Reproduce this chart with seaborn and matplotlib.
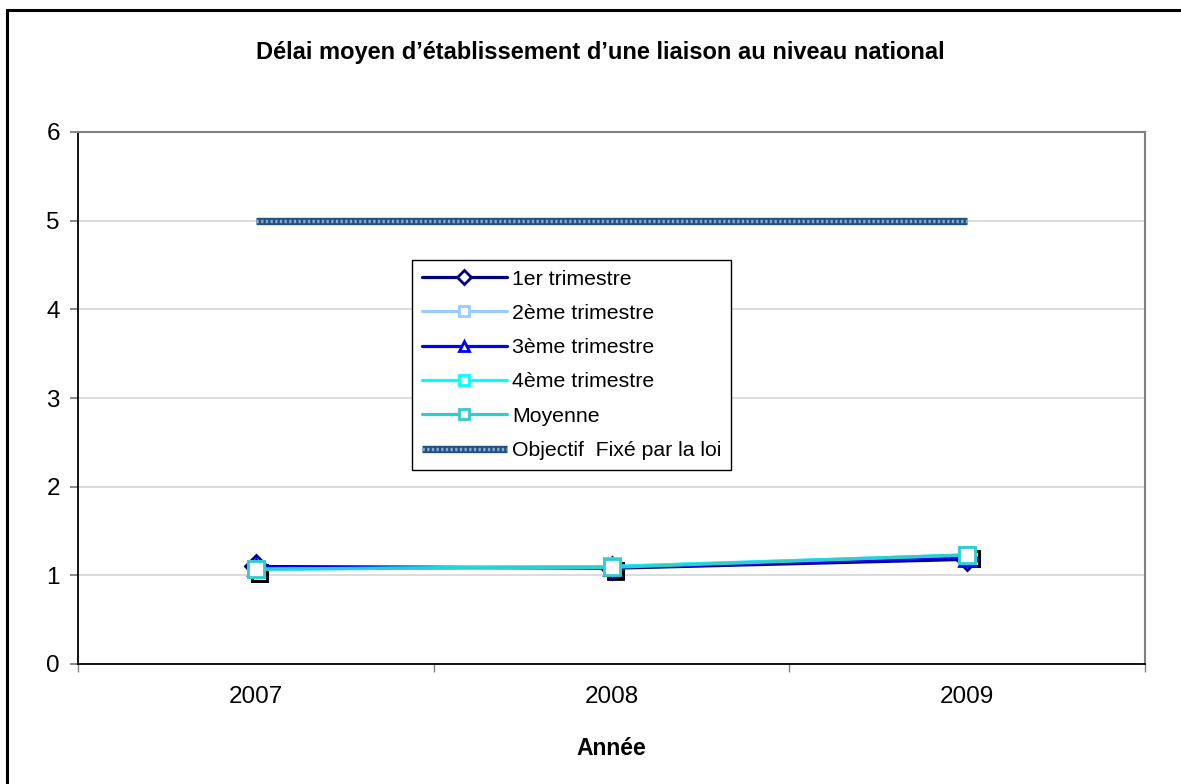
import matplotlib
matplotlib.use("Agg")
import matplotlib.pyplot as plt
import matplotlib.patheffects as pe
from matplotlib.patches import Rectangle
from matplotlib.ticker import FixedLocator, NullFormatter
from matplotlib.legend_handler import HandlerTuple
import seaborn as sns
import pandas as pd

# ---- data ----
years = ["2007", "2008", "2009"]
t1 = [1.10, 1.08, 1.18]
t2 = [1.07, 1.10, 1.23]
t3 = [1.09, 1.09, 1.20]
t4 = [1.07, 1.10, 1.23]
moyenne = [1.07, 1.09, 1.23]
objectif = [5, 5, 5]
series_names = ["1er trimestre", "2ème trimestre", "3ème trimestre",
                "4ème trimestre", "Moyenne"]
series_values = [t1, t2, t3, t4, moyenne]
title = "Délai moyen d’établissement d’une liaison au niveau national"
xlabel = "Année"
obj_label = "Objectif  Fixé par la loi"
yticks = [0, 1, 2, 3, 4, 5, 6]

colors = ["#000080", "#99CCFF", "#0000FF", "#00FFFF", "#33CCCC"]
markers = ["D", "s", "^", "s", "s"]

sns.set_theme(style="white")
plt.rcParams["font.family"] = ["Liberation Sans", "DejaVu Sans"]

W, H = 1181, 784
fig = plt.figure(figsize=(W / 100, H / 100), dpi=100)
L, R, T, B = 78, 1145, 132, 664
ax = fig.add_axes([L / W, 1 - B / H, (R - L) / W, (B - T) / H])

# objective line (textured: dark base + light dotted overlay)
df_obj = pd.DataFrame({"year": years, "val": objectif})
sns.lineplot(data=df_obj, x="year", y="val", ax=ax, color="#24507f",
             linewidth=5.3, zorder=2, sort=False, solid_capstyle="butt")
obj_base = ax.lines[-1]
sns.lineplot(data=df_obj, x="year", y="val", ax=ax, color="#86a8cc",
             linewidth=2.4, zorder=2.1, sort=False, linestyle=(0, (0.7, 0.7)),
             dash_capstyle="butt")
obj_dots = ax.lines[-1]

handles = {}
for name, vals, c, m in zip(series_names, series_values, colors, markers):
    d = pd.DataFrame({"year": years, "val": vals})
    if m == "s":
        # shadow of square markers
        sns.lineplot(data=d, x="year", y="val", ax=ax, color=c, linestyle="",
                     marker=m, markersize=11, markerfacecolor="white",
                     markeredgecolor=c, markeredgewidth=2, sort=False,
                     path_effects=[pe.SimpleLineShadow(offset=(2.8, -2.8),
                                                       shadow_color="black", alpha=1.0)],
                     zorder=3, alpha=0)
    sns.lineplot(data=d, x="year", y="val", ax=ax, color=c, linewidth=2.3,
                 marker=m, markersize=11, markerfacecolor="white",
                 markeredgecolor=c, markeredgewidth=2, sort=False,
                 zorder=4)
    handles[name] = ax.lines[-1]

ax.set_xlim(-0.5, 2.5)
ax.set_ylim(0, 6)
ax.set_yticks(yticks)
ax.set_yticklabels([str(v) for v in yticks])
ax.yaxis.grid(True, color="#D9D9D9", linewidth=1.3)
ax.xaxis.grid(False)
ax.set_axisbelow(True)

ax.xaxis.set_minor_locator(FixedLocator([-0.5, 0.5, 1.5, 2.5]))
ax.xaxis.set_minor_formatter(NullFormatter())
ax.tick_params(axis="x", which="major", length=0, pad=16, labelsize=17.5, labelcolor="black")
ax.tick_params(axis="x", which="minor", bottom=True, length=6, width=1, color="#808080", direction="out")
ax.tick_params(axis="y", which="major", left=True, length=6, width=1.3, color="#808080",
               direction="out", pad=7, labelsize=17.5, labelcolor="black")

for s in ["top", "right"]:
    ax.spines[s].set_visible(True)
    ax.spines[s].set_color("#808080")
    ax.spines[s].set_linewidth(1.5)
for s in ["left", "bottom"]:
    ax.spines[s].set_color("black")
    ax.spines[s].set_linewidth(1.3)

ax.set_ylabel("")
ax.set_xlabel(xlabel, fontsize=16.5, fontweight="bold", color="black")
ax.xaxis.set_label_coords(0.5, (B - 737) / (B - T))

# legend
leg_handles = [handles[n] for n in series_names] + [(obj_base, obj_dots)]
leg_labels = series_names + [obj_label]
leg = ax.legend(leg_handles, leg_labels, loc="upper left",
                bbox_to_anchor=((412 - L) / (R - L), (B - 260) / (B - T)),
                borderaxespad=0, frameon=True, fancybox=False, framealpha=1,
                edgecolor="black", fontsize=15.3, handlelength=4.0,
                handletextpad=0.25, labelspacing=0.72, borderpad=0.45,
                markerscale=0.65, handler_map={tuple: HandlerTuple(ndivide=1)})
leg.get_frame().set_linewidth(1.0)
for t in leg.get_texts():
    t.set_color("black")

fig.text(600 / W, 1 - 52 / H, title, ha="center", va="center",
         fontsize=17, fontweight="bold", color="black")

# outer chart frame (left and top edges visible)
fig.add_artist(Rectangle((7 / W, -0.1), 2.0, 1.1 - 10 / H, transform=fig.transFigure,
                         fill=False, edgecolor="black", linewidth=2.2))

fig.savefig("out.png", dpi=100, facecolor="white")
